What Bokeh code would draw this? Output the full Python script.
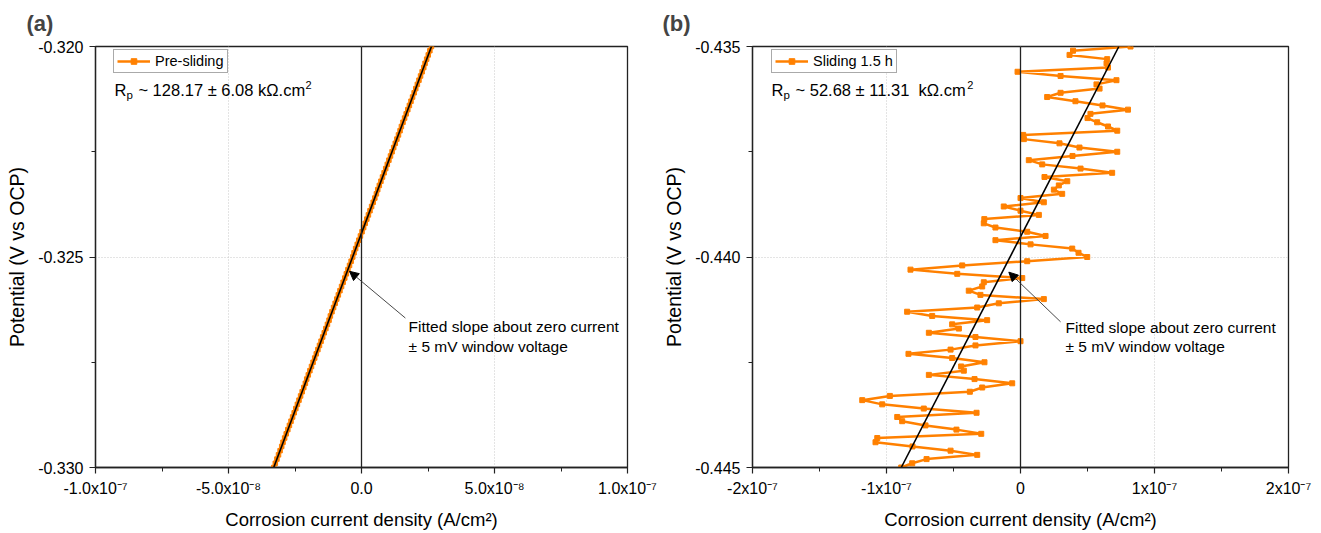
from bokeh.plotting import figure
from bokeh.layouts import row
from bokeh.models import (Span, Label, Arrow, NormalHead, FixedTicker, CustomJSTickFormatter,
                          Range1d, Legend, LegendItem)
from bokeh.embed import file_html
from bokeh.resources import INLINE
import numpy as np

FONT = "Liberation Sans"
ORANGE = "#FF8000"

# ---------------- data: panel (a) Pre-sliding ----------------
pot_a = [
    -0.3300, -0.3299, -0.3298, -0.3297, -0.3296, -0.3295, -0.3294, -0.3293, -0.3292, -0.3291,
    -0.3290, -0.3289, -0.3288, -0.3287, -0.3286, -0.3285, -0.3284, -0.3283, -0.3282, -0.3281,
    -0.3280, -0.3279, -0.3278, -0.3277, -0.3276, -0.3275, -0.3274, -0.3273, -0.3272, -0.3271,
    -0.3270, -0.3269, -0.3268, -0.3267, -0.3266, -0.3265, -0.3264, -0.3263, -0.3262, -0.3261,
    -0.3260, -0.3259, -0.3258, -0.3257, -0.3256, -0.3255, -0.3254, -0.3253, -0.3252, -0.3251,
    -0.3250, -0.3249, -0.3248, -0.3247, -0.3246, -0.3245, -0.3244, -0.3243, -0.3242, -0.3241,
    -0.3240, -0.3239, -0.3238, -0.3237, -0.3236, -0.3235, -0.3234, -0.3233, -0.3232, -0.3231,
    -0.3230, -0.3229, -0.3228, -0.3227, -0.3226, -0.3225, -0.3224, -0.3223, -0.3222, -0.3221,
    -0.3220, -0.3219, -0.3218, -0.3217, -0.3216, -0.3215, -0.3214, -0.3213, -0.3212, -0.3211,
    -0.3210, -0.3209, -0.3208, -0.3207, -0.3206, -0.3205, -0.3204, -0.3203, -0.3202, -0.3201,
    -0.3200]
# current density in units of 1e-8 A/cm2
cur_a_e8 = [
    -3.30, -3.24, -3.18, -3.12, -3.06, -3.00, -2.95, -2.89, -2.83, -2.77,
    -2.71, -2.65, -2.59, -2.53, -2.47, -2.41, -2.35, -2.29, -2.23, -2.17,
    -2.11, -2.06, -2.00, -1.94, -1.88, -1.82, -1.76, -1.70, -1.64, -1.58,
    -1.52, -1.46, -1.40, -1.34, -1.28, -1.22, -1.17, -1.11, -1.05, -0.99,
    -0.93, -0.87, -0.81, -0.75, -0.69, -0.63, -0.57, -0.51, -0.45, -0.39,
    -0.33, -0.28, -0.22, -0.16, -0.10, -0.04, 0.02, 0.08, 0.14, 0.20,
    0.26, 0.32, 0.38, 0.44, 0.50, 0.56, 0.61, 0.67, 0.73, 0.79,
    0.85, 0.91, 0.97, 1.03, 1.09, 1.15, 1.21, 1.27, 1.33, 1.39,
    1.45, 1.50, 1.56, 1.62, 1.68, 1.74, 1.80, 1.86, 1.92, 1.98,
    2.04, 2.10, 2.16, 2.22, 2.28, 2.34, 2.39, 2.45, 2.51, 2.57,
    2.63]
fit_a_cur = [-3.30e-8, 2.63e-8]
fit_a_pot = [-0.330, -0.320]

# ---------------- data: panel (b) Sliding 1.5 h ----------------
pot_b = [
    -0.4450, -0.4449, -0.4448, -0.4447, -0.4446, -0.4445, -0.4444, -0.4443, -0.4442, -0.4441,
    -0.4440, -0.4439, -0.4438, -0.4437, -0.4436, -0.4435, -0.4434, -0.4433, -0.4432, -0.4431,
    -0.4430, -0.4429, -0.4428, -0.4427, -0.4426, -0.4425, -0.4424, -0.4423, -0.4422, -0.4421,
    -0.4420, -0.4419, -0.4418, -0.4417, -0.4416, -0.4415, -0.4414, -0.4413, -0.4412, -0.4411,
    -0.4410, -0.4409, -0.4408, -0.4407, -0.4406, -0.4405, -0.4404, -0.4403, -0.4402, -0.4401,
    -0.4400, -0.4399, -0.4398, -0.4397, -0.4396, -0.4395, -0.4394, -0.4393, -0.4392, -0.4391,
    -0.4390, -0.4389, -0.4388, -0.4387, -0.4386, -0.4385, -0.4384, -0.4383, -0.4382, -0.4381,
    -0.4380, -0.4379, -0.4378, -0.4377, -0.4376, -0.4375, -0.4374, -0.4373, -0.4372, -0.4371,
    -0.4370, -0.4369, -0.4368, -0.4367, -0.4366, -0.4365, -0.4364, -0.4363, -0.4362, -0.4361,
    -0.4360, -0.4359, -0.4358, -0.4357, -0.4356, -0.4355, -0.4354, -0.4353, -0.4352, -0.4351,
    -0.4350]
cur_b_e8 = [
    -8.90, -8.08, -7.01, -3.23, -5.22, -8.06, -10.82, -10.69, -2.93, -4.78,
    -7.09, -8.83, -9.20, -3.28, -7.22, -10.32, -11.81, -9.75, -3.78, -2.86,
    -0.62, -3.43, -6.84, -4.23, -4.43, -2.69, -5.10, -8.36, -5.22, -3.36,
    0.00, -3.36, -6.84, -4.60, -5.10, -2.49, -6.59, -8.46, -3.23, -1.62,
    1.74, -2.99, -3.86, -2.86, -2.74, 0.13, -4.72, -8.21, -4.35, 0.50,
    4.98, 4.33, 3.86, 0.75, -1.87, 1.87, 0.50, -1.87, -2.74, -2.70,
    1.37, 0.00, -1.25, 1.74, 0.00, 3.11, 2.49, 2.86, 3.49, 1.79,
    6.84, 4.48, 1.62, 0.62, 3.88, 7.22, 4.40, 2.91, 0.25, 0.20,
    7.22, 6.53, 5.72, 5.00, 5.22, 8.02, 6.12, 4.10, 1.99, 2.99,
    5.90, 5.67, 7.16, 2.99, -0.22, 6.53, 6.42, 6.47, 3.66, 3.92,
    8.21]
fit_b_cur = [-8.90e-8, 7.34e-8]
fit_b_pot = [-0.445, -0.435]

# ---------------- axes ticks / labels ----------------
x_ticks_a = [-1.0e-7, -5.0e-8, 0.0, 5.0e-8, 1.0e-7]
x_minor_a = [-7.5e-8, -2.5e-8, 2.5e-8, 7.5e-8]
x_labels_a = ["-1.0x10\u207b\u2077", "-5.0x10\u207b\u2078", "0.0", "5.0x10\u207b\u2078", "1.0x10\u207b\u2077"]
y_ticks_a = [-0.330, -0.325, -0.320]
y_minor_a = [-0.3275, -0.3225]
y_labels_a = ["-0.330", "-0.325", "-0.320"]

x_ticks_b = [-2.0e-7, -1.0e-7, 0.0, 1.0e-7, 2.0e-7]
x_minor_b = [-1.5e-7, -5.0e-8, 5.0e-8, 1.5e-7]
x_labels_b = ["-2x10\u207b\u2077", "-1x10\u207b\u2077", "0", "1x10\u207b\u2077", "2x10\u207b\u2077"]
y_ticks_b = [-0.445, -0.440, -0.435]
y_minor_b = [-0.4425, -0.4375]
y_labels_b = ["-0.445", "-0.440", "-0.435"]

# Arial / Liberation Sans advance widths (em)
CW = {"-": .333, ".": .278, "x": .5, " ": .278, "~": .584, "\u00b1": .584, "k": .5,
      "\u03a9": .768, "c": .5, "m": .833, "\u00a0": .278}


def text_w(s, size):
    return sum(CW.get(ch, .556) for ch in s) * size


def fmt(vals, labels, tol):
    return CustomJSTickFormatter(args=dict(vals=vals, labels=labels, tol=tol), code="""
        for (let i = 0; i < vals.length; i++) {
            if (Math.abs(vals[i] - tick) < tol) { return labels[i]; }
        }
        return "";
    """)


def make_panel(title, xr, yr, xt, xm, xl, yt, ym, yl, left_border, fw):
    p = figure(frame_width=fw, frame_height=421,
               x_range=Range1d(*xr), y_range=Range1d(*yr),
               output_backend="svg", toolbar_location=None,
               min_border_left=left_border, min_border_right=33,
               min_border_top=46, min_border_bottom=66,
               background_fill_color="white", border_fill_color="white")
    p.title.text = title
    p.title.text_font = FONT
    p.title.text_font_size = "22px"
    p.title.text_font_style = "bold"
    p.title.align = "left"
    p.title.vertical_align = "top"
    p.title.standoff = 18
    p.outline_line_color = "#222222"
    p.outline_line_width = 1.3
    p.outline_line_alpha = 1.0

    p.xaxis.ticker = FixedTicker(ticks=xt, minor_ticks=xm)
    p.yaxis.ticker = FixedTicker(ticks=yt, minor_ticks=ym)
    p.xaxis.formatter = fmt(xt, xl, 1e-12)
    p.yaxis.formatter = fmt(yt, yl, 1e-6)
    p.xaxis.axis_label = "Corrosion current density (A/cm\u00b2)"
    p.yaxis.axis_label = "Potential (V vs OCP)"
    for ax in (p.xaxis, p.yaxis):
        ax.axis_label_text_font = FONT
        ax.axis_label_text_font_style = "normal"
        ax.axis_label_text_color = "black"
        ax.major_label_text_font = FONT
        ax.major_label_text_font_size = "16px"
        ax.major_label_text_color = "black"
        ax.axis_line_color = "#222222"
        ax.axis_line_width = 1.3
        ax.major_tick_line_color = "#222222"
        ax.minor_tick_line_color = "#222222"
        ax.major_tick_line_width = 1.2
        ax.minor_tick_line_width = 1.0
        ax.major_tick_in = 0
        ax.major_tick_out = 6
        ax.minor_tick_in = 0
        ax.minor_tick_out = 4
    p.xaxis.axis_label_text_font_size = "18.5px"
    p.yaxis.axis_label_text_font_size = "19.5px"
    p.xaxis.major_label_standoff = 6
    p.xaxis.axis_label_standoff = 9
    p.yaxis.major_label_standoff = 6
    p.yaxis.axis_label_standoff = 7

    for g in (p.xgrid, p.ygrid):
        g.grid_line_color = "#c8c8c8"
        g.grid_line_dash = "1 2"
        g.grid_line_width = 1
    p.add_layout(Span(location=0, dimension="height", line_color="#222222", line_width=1.3))
    return p


# ---------------- panel (a) ----------------
pa = make_panel("(a)", (-1.0e-7, 1.0e-7), (-0.330, -0.320),
                x_ticks_a, x_minor_a, x_labels_a, y_ticks_a, y_minor_a, y_labels_a, 95, 532)
pa.title.offset = -69
xa = np.array(cur_a_e8) * 1e-8
la = pa.line(xa, pot_a, line_color=ORANGE, line_width=2.5)
sa = pa.scatter(xa, pot_a, marker="square", size=4.5, color=ORANGE)
pa.line(fit_a_cur, fit_a_pot, line_color="black", line_width=1.6)
leg_a = Legend(items=[LegendItem(label="Pre-sliding", renderers=[la, sa])], location=(18, 394))
pa.add_layout(leg_a)

# ---------------- panel (b) ----------------
pb = make_panel("(b)", (-2.0e-7, 2.0e-7), (-0.445, -0.435),
                x_ticks_b, x_minor_b, x_labels_b, y_ticks_b, y_minor_b, y_labels_b, 92, 536)
pb.title.offset = -90
xb = np.array(cur_b_e8) * 1e-8
lb = pb.line(xb, pot_b, line_color=ORANGE, line_width=2.5)
sb = pb.scatter(xb, pot_b, marker="square", size=5, color=ORANGE)
pb.line(fit_b_cur, fit_b_pot, line_color="black", line_width=1.6)
leg_b = Legend(items=[LegendItem(label="Sliding 1.5 h", renderers=[lb, sb])], location=(19, 394))
pb.add_layout(leg_b)

for leg in (leg_a, leg_b):
    leg.label_text_font = FONT
    leg.label_text_font_size = "14.5px"
    leg.label_text_color = "black"
    leg.glyph_width = 33
    leg.glyph_height = 14
    leg.label_height = 14
    leg.label_standoff = 5
    leg.padding = 3
    leg.spacing = 0
    leg.margin = 0
    leg.border_line_color = "#555555"
    leg.border_line_width = 1
    leg.background_fill_alpha = 1.0

# ---------------- annotations ----------------
rp_a = dict(x=-9.29e-8, y=-0.32103, main="~ 128.17 \u00b1 6.08 k\u03a9.cm")
rp_b = dict(x=-1.858e-7, y=-0.43603, main="~ 52.68 \u00b1 11.31\u00a0 k\u03a9.cm")
note_line1 = "Fitted slope about zero current"
note_line2 = "\u00b1 5 mV window voltage"
arrow_a = dict(tip=(-0.45e-8, -0.32534), tail=(1.65e-8, -0.32645), text=(1.77e-8, -0.32664, -0.32712))
arrow_b = dict(tip=(-0.87e-8, -0.44036), tail=(2.99e-8, -0.44154), text=(3.36e-8, -0.44167, -0.44213))

RP_PX = 16.5


def lab(p, x, y, text, size, x_offset=0, y_offset=0):
    p.add_layout(Label(x=x, y=y, text=text, x_offset=x_offset, y_offset=y_offset,
                       text_font=FONT, text_font_size=size, text_color="black",
                       text_baseline="middle", text_align="left"))


for p, rp, ar in ((pa, rp_a, arrow_a), (pb, rp_b, arrow_b)):
    lab(p, rp["x"], rp["y"], "R", f"{RP_PX}px")
    lab(p, rp["x"], rp["y"], "p", "11.5px", x_offset=12, y_offset=-5)
    lab(p, rp["x"], rp["y"], rp["main"], f"{RP_PX}px", x_offset=24)
    lab(p, rp["x"], rp["y"], "2", "11px", x_offset=24 + text_w(rp["main"], RP_PX) - 0.5, y_offset=5)
    p.add_layout(Arrow(end=NormalHead(size=9, fill_color="black", line_color="black"),
                       x_start=ar["tail"][0], y_start=ar["tail"][1],
                       x_end=ar["tip"][0], y_end=ar["tip"][1],
                       line_color="#333333", line_width=0.9))
    lab(p, ar["text"][0], ar["text"][1], note_line1, "15.5px")
    lab(p, ar["text"][0], ar["text"][2], note_line2, "15.5px")

layout = row(pa, pb)
open("out.html", "w").write(file_html(layout, INLINE))
